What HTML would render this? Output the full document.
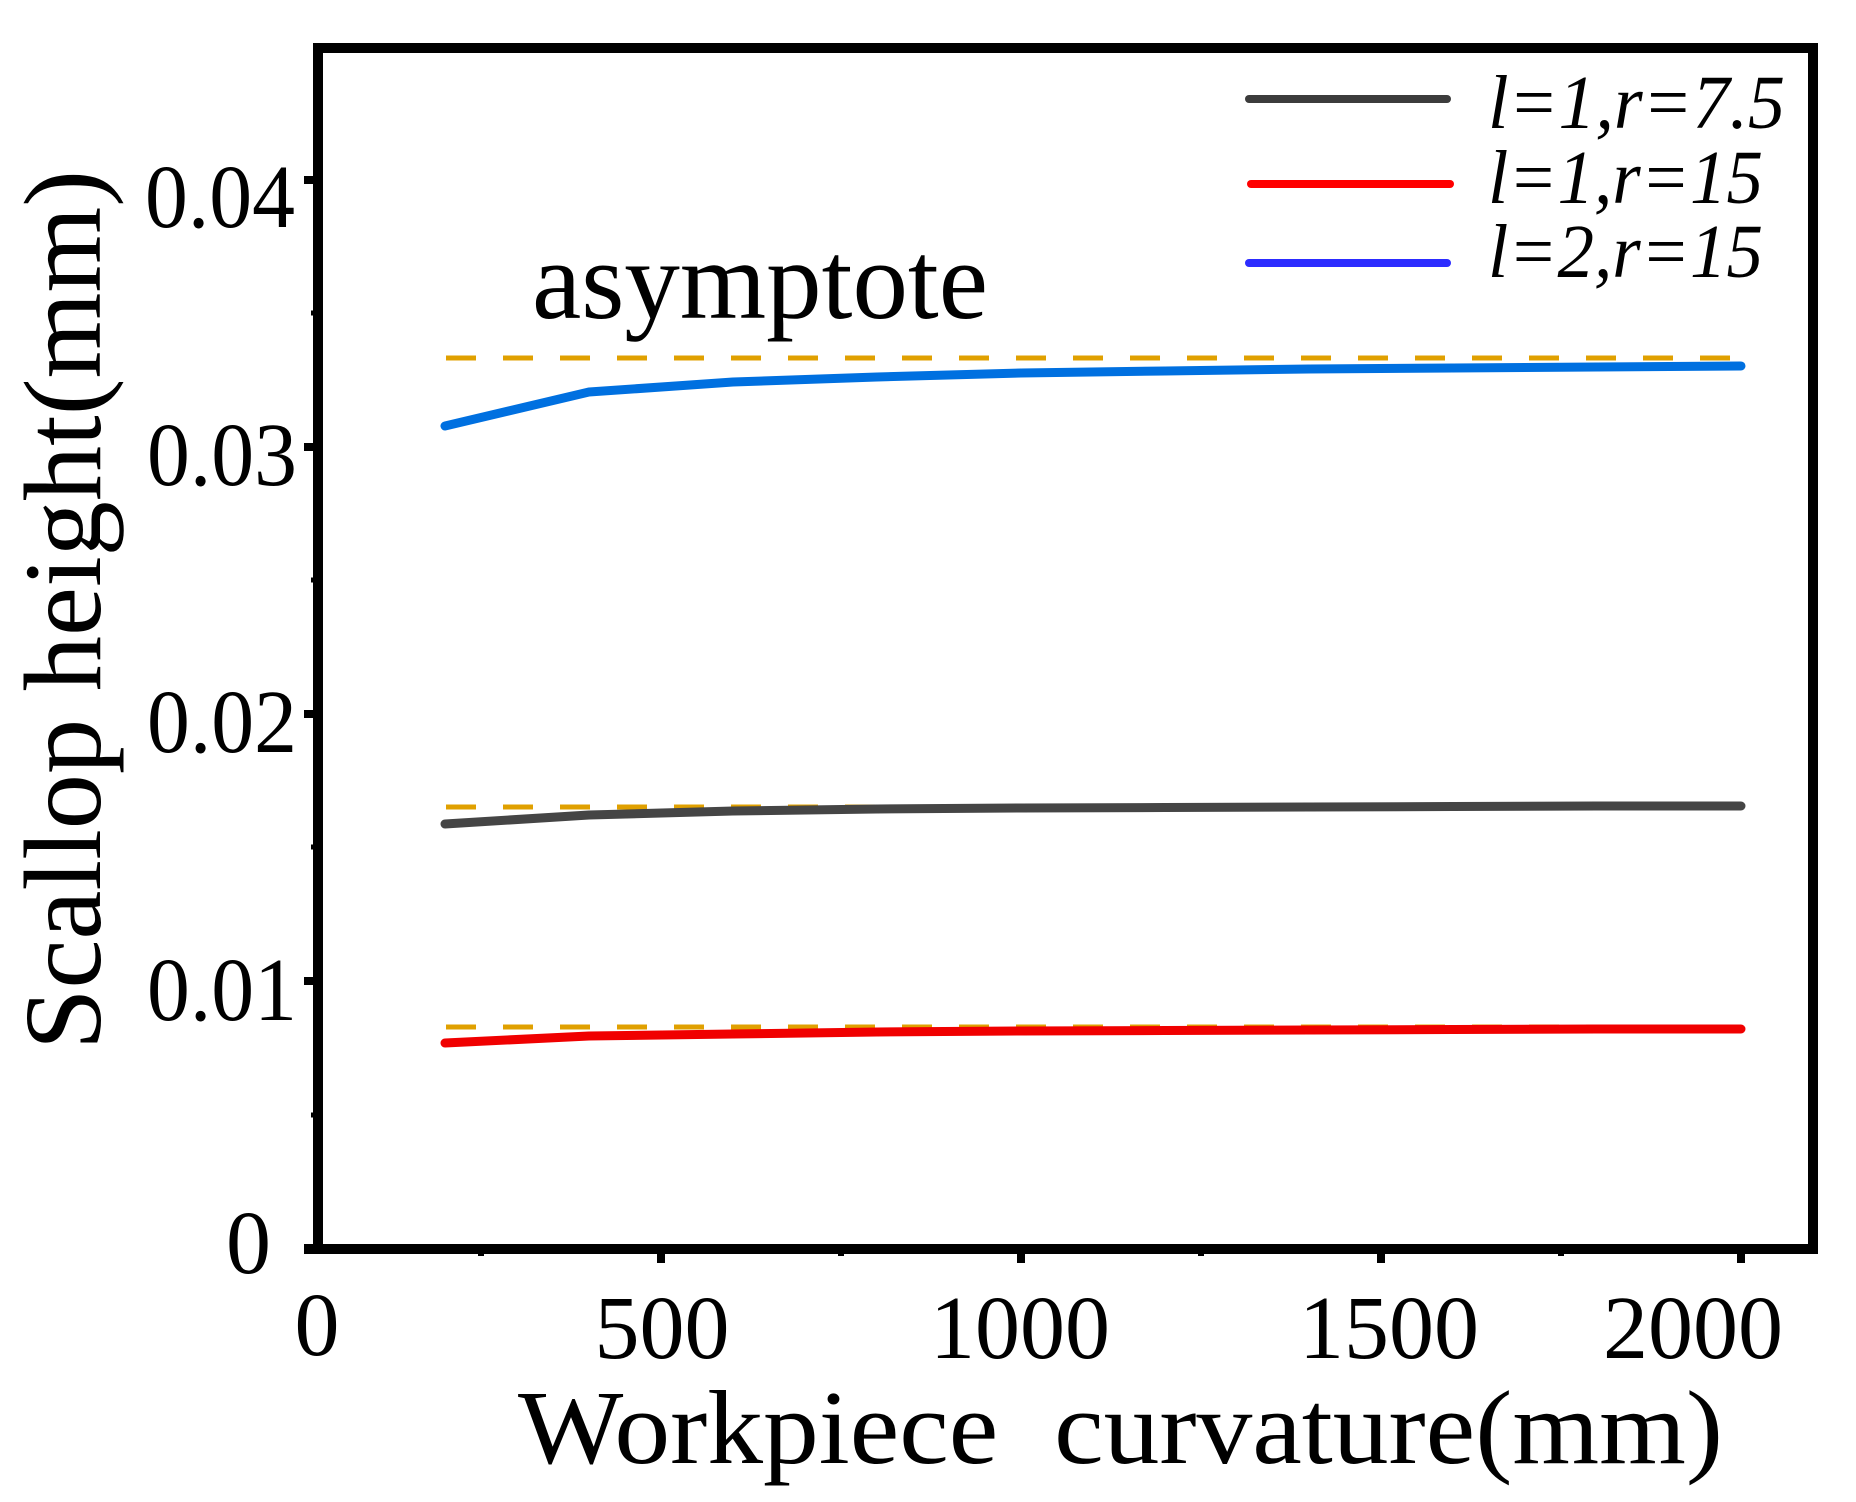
<!DOCTYPE html>
<html><head><meta charset="utf-8"><style>
html,body{margin:0;padding:0;background:#fff;}
svg{display:block;}
text{font-family:"Liberation Serif",serif;fill:#000;}
</style></head><body>
<svg width="1856" height="1502" viewBox="0 0 1856 1502" xmlns="http://www.w3.org/2000/svg">
<rect x="318" y="48" width="1495" height="1201" fill="none" stroke="#000" stroke-width="10"/>
<line x1="304" y1="1249" x2="318" y2="1249" stroke="#000" stroke-width="10"/>
<g stroke="#000" stroke-width="8">
<line x1="661" y1="1249" x2="661" y2="1263"/>
<line x1="1021" y1="1249" x2="1021" y2="1263"/>
<line x1="1381" y1="1249" x2="1381" y2="1263"/>
<line x1="1741" y1="1249" x2="1741" y2="1263"/>
</g>
<g stroke="#000" stroke-width="6">
<line x1="481" y1="1249" x2="481" y2="1256"/>
<line x1="841" y1="1249" x2="841" y2="1256"/>
<line x1="1201" y1="1249" x2="1201" y2="1256"/>
<line x1="1561" y1="1249" x2="1561" y2="1256"/>
</g>
<g stroke="#000" stroke-width="8">
<line x1="304" y1="180" x2="318" y2="180"/>
<line x1="304" y1="447" x2="318" y2="447"/>
<line x1="304" y1="714" x2="318" y2="714"/>
<line x1="304" y1="981" x2="318" y2="981"/>
</g>
<g stroke="#000" stroke-width="5">
<line x1="311" y1="313" x2="318" y2="313"/>
<line x1="311" y1="580" x2="318" y2="580"/>
<line x1="311" y1="847" x2="318" y2="847"/>
<line x1="311" y1="1115" x2="318" y2="1115"/>
</g>
<g font-size="90" text-anchor="end">
<text x="295" y="227" textLength="150" lengthAdjust="spacingAndGlyphs">0.04</text>
<text x="297" y="485" textLength="150" lengthAdjust="spacingAndGlyphs">0.03</text>
<text x="297" y="752" textLength="150" lengthAdjust="spacingAndGlyphs">0.02</text>
<text x="297" y="1020" textLength="150" lengthAdjust="spacingAndGlyphs">0.01</text>
<text x="271" y="1273">0</text>
</g>
<g font-size="90" text-anchor="middle">
<text x="317" y="1355">0</text>
<text x="662" y="1358">500</text>
<text x="1020" y="1358">1000</text>
<text x="1389" y="1358">1500</text>
<text x="1693" y="1358">2000</text>
</g>
<text x="518" y="1463" font-size="105" textLength="1205" lengthAdjust="spacingAndGlyphs" xml:space="preserve">Workpiece  curvature(mm)</text>
<text transform="translate(100,1050) rotate(-90)" x="0" y="0" font-size="110" textLength="880" lengthAdjust="spacingAndGlyphs">Scallop height(mm)</text>
<text x="532" y="318" font-size="111" textLength="456" lengthAdjust="spacingAndGlyphs">asymptote</text>
<g stroke="#E0A000" stroke-width="5" stroke-dasharray="30 27" fill="none">
<line x1="446" y1="358" x2="1741" y2="358"/>
<line x1="446" y1="807" x2="1741" y2="807"/>
<line x1="446" y1="1027" x2="1741" y2="1027"/>
</g>
<g fill="none" stroke-width="9" stroke-linecap="round" stroke-linejoin="round">
<polyline stroke="#0070E0" points="445,426 589,392 733,382 877,377 1021,373 1165,371 1309,369 1453,368 1597,367 1741,366"/>
<polyline stroke="#454545" points="445,824 589,815 733,811 877,809 1021,808 1165,807.5 1309,807 1453,806.5 1597,806 1741,806"/>
<polyline stroke="#F00000" points="445,1043 589,1036 733,1034 877,1032 1021,1031 1165,1030.5 1309,1030 1453,1029.5 1597,1029 1741,1029"/>
</g>
<g stroke-width="8" stroke-linecap="round">
<line x1="1249" y1="99" x2="1447" y2="99" stroke="#3C3C3C"/>
<line x1="1251" y1="184" x2="1450" y2="184" stroke="#FF0000"/>
<line x1="1249" y1="263" x2="1447" y2="263" stroke="#2C2CFF"/>
</g>
<g font-size="76" font-style="italic">
<text x="1488" y="128" textLength="297" lengthAdjust="spacingAndGlyphs">l=1,r=7.5</text>
<text x="1488" y="203" textLength="275" lengthAdjust="spacingAndGlyphs">l=1,r=15</text>
<text x="1488" y="277" textLength="275" lengthAdjust="spacingAndGlyphs">l=2,r=15</text>
</g>
</svg>
</body></html>
